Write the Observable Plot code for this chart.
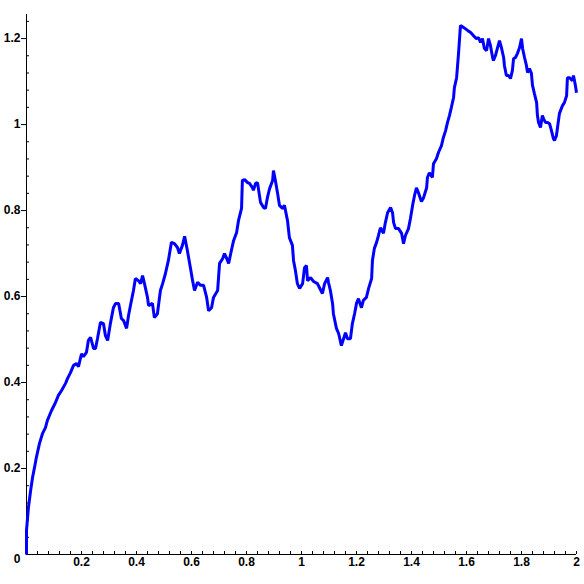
<!DOCTYPE html>
<html>
<head>
<meta charset="utf-8">
<script src="https://cdn.jsdelivr.net/npm/d3@7"></script>
<script src="https://cdn.jsdelivr.net/npm/@observablehq/plot@0.6"></script>
<style>
  html, body { margin: 0; padding: 0; background: #fff; }
</style>
</head>
<body>
<div id="chart"></div>
<script>
const xs = [0,0,0.007,0.015,0.022,0.029,0.036,0.047,0.058,0.069,
0.076,0.091,0.105,0.116,0.127,0.142,0.149,0.16,0.171,0.182,
0.189,0.2,0.207,0.218,0.225,0.233,0.244,0.251,0.258,0.269,
0.28,0.287,0.295,0.305,0.316,0.324,0.335,0.345,0.353,0.364,
0.371,0.378,0.389,0.396,0.407,0.415,0.422,0.429,0.44,0.444,
0.458,0.465,0.476,0.487,0.495,0.505,0.516,0.527,0.538,0.549,
0.556,0.567,0.575,0.585,0.596,0.604,0.611,0.622,0.633,0.644,
0.655,0.662,0.673,0.68,0.695,0.702,0.713,0.72,0.731,0.735,
0.745,0.753,0.764,0.771,0.782,0.785,0.793,0.804,0.811,0.822,
0.825,0.833,0.84,0.851,0.862,0.869,0.876,0.884,0.895,0.898,
0.905,0.913,0.92,0.931,0.938,0.949,0.956,0.967,0.971,0.978,
0.985,0.993,1.004,1.011,1.018,1.022,1.033,1.044,1.058,1.065,
1.076,1.084,1.095,1.098,1.105,1.113,1.116,1.127,1.135,1.145,
1.153,1.16,1.167,1.178,1.185,1.193,1.2,1.207,1.218,1.225,
1.236,1.244,1.255,1.258,1.265,1.273,1.28,1.287,1.298,1.305,
1.313,1.324,1.331,1.335,1.342,1.353,1.364,1.371,1.378,1.389,
1.396,1.404,1.411,1.418,1.425,1.436,1.444,1.455,1.458,1.465,
1.476,1.48,1.491,1.498,1.509,1.516,1.524,1.531,1.538,1.545,
1.553,1.556,1.564,1.567,1.571,1.575,1.578,1.589,1.604,1.615,
1.625,1.636,1.644,1.651,1.658,1.665,1.673,1.68,1.687,1.695,
1.698,1.705,1.713,1.72,1.727,1.735,1.738,1.745,1.753,1.76,
1.767,1.771,1.778,1.785,1.793,1.8,1.804,1.811,1.818,1.822,
1.829,1.836,1.84,1.847,1.855,1.858,1.862,1.869,1.876,1.88,
1.887,1.895,1.902,1.909,1.916,1.92,1.927,1.931,1.938,1.949,
1.956,1.964,1.967,1.975,1.985,1.989,1.996,2.0];

const ys = [0,0.056,0.109,0.149,0.179,0.202,0.226,0.258,0.281,0.295,
0.312,0.335,0.353,0.37,0.381,0.398,0.409,0.423,0.44,0.444,
0.437,0.467,0.46,0.47,0.498,0.505,0.479,0.479,0.502,0.54,
0.537,0.509,0.498,0.537,0.574,0.584,0.584,0.549,0.544,0.526,
0.556,0.579,0.614,0.642,0.637,0.63,0.649,0.63,0.598,0.579,
0.584,0.551,0.56,0.614,0.63,0.653,0.684,0.726,0.723,0.714,
0.7,0.719,0.74,0.707,0.667,0.637,0.614,0.633,0.626,0.626,
0.598,0.567,0.574,0.598,0.614,0.677,0.688,0.7,0.684,0.677,
0.707,0.73,0.749,0.777,0.805,0.87,0.872,0.865,0.863,0.853,
0.847,0.863,0.865,0.819,0.807,0.805,0.83,0.851,0.87,0.893,
0.87,0.84,0.812,0.805,0.812,0.777,0.737,0.719,0.684,0.66,
0.63,0.619,0.63,0.667,0.672,0.637,0.644,0.635,0.63,0.621,
0.607,0.63,0.644,0.633,0.614,0.584,0.56,0.526,0.514,0.486,
0.502,0.516,0.502,0.502,0.537,0.56,0.584,0.595,0.574,0.591,
0.598,0.619,0.642,0.684,0.712,0.726,0.742,0.76,0.747,0.772,
0.795,0.807,0.795,0.772,0.758,0.758,0.747,0.723,0.742,0.758,
0.781,0.812,0.835,0.853,0.842,0.821,0.83,0.853,0.877,0.888,
0.877,0.909,0.921,0.935,0.951,0.97,0.986,1.005,1.021,1.04,
1.063,1.086,1.109,1.133,1.165,1.202,1.23,1.226,1.219,1.214,
1.207,1.2,1.202,1.191,1.2,1.177,1.172,1.2,1.184,1.156,
1.149,1.16,1.179,1.195,1.179,1.156,1.137,1.114,1.114,1.107,
1.126,1.153,1.156,1.165,1.179,1.2,1.177,1.156,1.137,1.121,
1.13,1.119,1.091,1.072,1.051,1.021,1.005,0.993,1.021,1.014,
1.005,1.005,1.002,0.986,0.967,0.963,0.974,0.993,1.026,1.044,
1.051,1.067,1.109,1.109,1.102,1.114,1.091,1.074];

const xMajorTicks = [0.2, 0.4, 0.6, 0.8, 1, 1.2, 1.4, 1.6, 1.8, 2];
const xMinorTicks = [0.04,0.08,0.12,0.16,0.24,0.28,0.32,0.36,0.44,0.48,0.52,0.56,0.64,0.68,0.72,0.76,
  0.84,0.88,0.92,0.96,1.04,1.08,1.12,1.16,1.24,1.28,1.32,1.36,1.44,1.48,1.52,1.56,
  1.64,1.68,1.72,1.76,1.84,1.88,1.92,1.96];
const yMajorTicks = [0.2, 0.4, 0.6, 0.8, 1, 1.2];
const yZeroTick = [0];
const yMinorTicks = [0.04,0.08,0.12,0.16,0.24,0.28,0.32,0.36,0.44,0.48,0.52,0.56,0.64,0.68,0.72,0.76,
  0.84,0.88,0.92,0.96,1.04,1.08,1.12,1.16,1.24];

const data = xs.map((x, i) => ({x, y: ys[i]}));
const fmt = d => String(+d.toFixed(2));

const chart = Plot.plot({
  width: 584,
  height: 584,
  marginLeft: 26,
  marginRight: 8,
  marginTop: 14,
  marginBottom: 30,
  style: {fontFamily: "'Liberation Sans', Arial, sans-serif", fontSize: "12px", fontWeight: "bold", color: "#000", background: "#fff"},
  x: {domain: [0, 2], label: null},
  y: {domain: [0, 1.256], label: null},
  marks: [
    Plot.ruleY([0], {stroke: "#000", strokeWidth: 1}),
    Plot.ruleX([0], {stroke: "#000", strokeWidth: 1}),
    // x axis: inward ticks, labels below
    Plot.axisX({ticks: xMajorTicks, tickSize: 3, dy: -3, tickFormat: () => "", label: null, stroke: "#000"}),
    Plot.axisX({ticks: xMinorTicks, tickSize: 3, dy: -3, tickFormat: () => "", label: null, stroke: "#000"}),
    Plot.axisX({ticks: xMajorTicks, tickSize: 0, tickPadding: 3, tickFormat: fmt, label: null, fill: "#000", fontWeight: "bold"}),
    // y axis: outward major ticks, inward minor ticks
    Plot.axisY({ticks: yMajorTicks, tickSize: 5, tickPadding: 1, tickFormat: fmt, label: null, stroke: "#000", fill: "#000", fontWeight: "bold"}),
    Plot.axisY({ticks: yZeroTick, tickSize: 0, tickPadding: 6, dy: 5, tickFormat: fmt, label: null, fill: "#000", fontWeight: "bold"}),
    Plot.axisY({ticks: yMinorTicks, tickSize: 3, dx: 3, tickFormat: () => "", label: null, stroke: "#000"}),
    Plot.line(data, {x: "x", y: "y", stroke: "#0000ff", strokeWidth: 3, strokeLinejoin: "miter", strokeLinecap: "butt"})
  ]
});
document.getElementById("chart").appendChild(chart);
</script>
</body>
</html>
